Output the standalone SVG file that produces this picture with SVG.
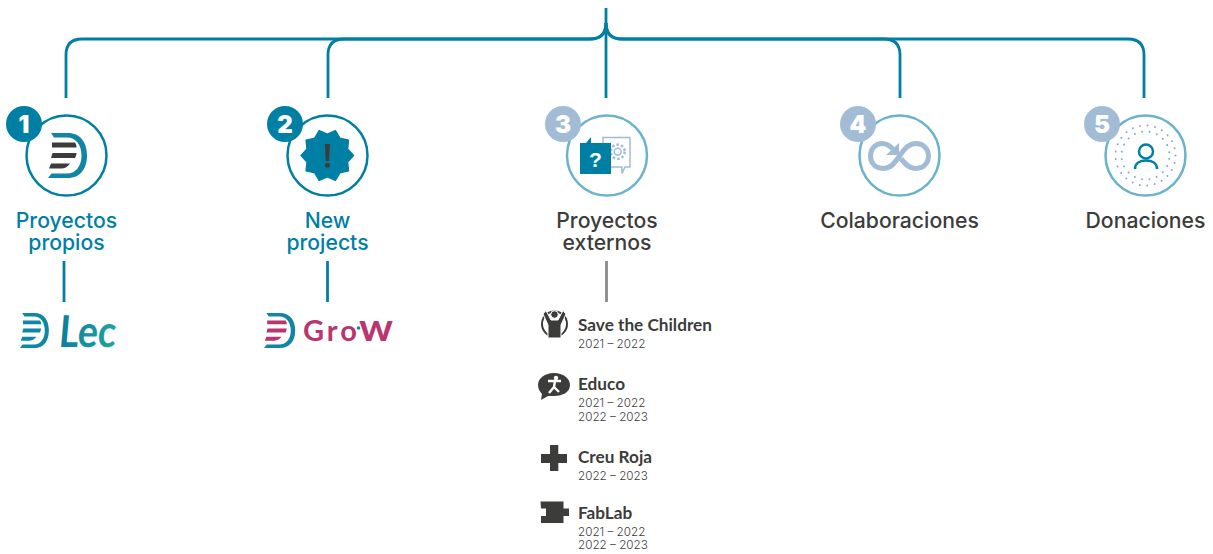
<svg xmlns="http://www.w3.org/2000/svg" width="1213" height="554" viewBox="0 0 1213 554">
<style>
.conn{fill:none;stroke:#007fa5;stroke-width:2.800}
.ring1{fill:#fff;stroke:#007fa5;stroke-width:2.500}
.ring2{fill:#fff;stroke:#6bb3cc;stroke-width:2.500}
.bd1{fill:#007fa5}
.bd2{fill:#a3bcd6}
.num{font:900 24px Inter,"Liberation Sans",sans-serif;fill:#fff;text-anchor:middle}
.lab{font:500 21.200px Inter,"Liberation Sans",sans-serif;text-anchor:middle}
.t1{fill:#007fa5}
.t2{fill:#3c3c3b}
.nm{font:700 17.200px Lato,"Liberation Sans",sans-serif;fill:#3c3c3b}
.dt{font:300 11.700px Inter,"Liberation Sans",sans-serif;fill:#3c3c3b}
.dk{fill:#3c3c3b}
.lb{fill:none;stroke:#a3bcd6}
.dots{fill:none;stroke:#86a9cc;stroke-width:2;stroke-linecap:round}
</style>
<defs>
<linearGradient id="lecg" x1="0" x2="1" y1="0" y2="0"><stop offset="0" stop-color="#0b7d9e"/><stop offset="1" stop-color="#1ea59a"/></linearGradient>
<path id="dOuter" d="M3 0H20C32 0 39 9 39 22.500C39 36 32 45 20 45H0L3.500 40.500H19C28 40.500 33.500 33 33.500 22.500C33.500 12 28 4.500 19 4.500H6Z"/>
<g id="dBars">
<path d="M4 9.500H27C28 11 28.500 12.500 28.500 14.500H4Z"/>
<path d="M4.500 20H28.500C28.300 22 27.800 23.500 27 25H3Z"/>
<path d="M3 30.500H22C20 33.500 17 35.500 13 35.500H1Z"/>
</g>
</defs>
<g id="connectors">
<path class="conn" d="M606 8V98"/>
<path class="conn" d="M66 98V55Q66 39 82 39H590Q606 39 606 23"/>
<path class="conn" d="M328 98V55Q328 39 344 39H590Q606 39 606 23"/>
<path class="conn" d="M900 98V55Q900 39 884 39H622Q606 39 606 23"/>
<path class="conn" d="M1144 98V55Q1144 39 1128 39H622Q606 39 606 23"/>
<path class="conn" d="M64 261V302"/>
<path class="conn" d="M327.500 261V302"/>
<path d="M606.500 261V302" fill="none" stroke="#8a8a8a" stroke-width="2.800"/>
</g>
<g id="node-1">
<circle class="ring1" cx="66.500" cy="155.500" r="40"/>
<circle class="bd1" cx="24" cy="124" r="18"/>
<text class="num" x="24" y="133">1</text>
<use href="#dOuter" x="48" y="133" fill="#1184a8"/>
<use href="#dBars" x="48" y="133" fill="#3c3c3b"/>
<text class="lab t1" x="66.500" y="227.500">Proyectos</text>
<text class="lab t1" x="66.500" y="249.500">propios</text>
</g>
<g id="logo-lec">
<g transform="translate(20 313) scale(.74 .78)"><use href="#dOuter" fill="#0f86a4"/><use href="#dBars" fill="#0f86a4"/></g>
<text x="0" y="0" transform="translate(58 347) skewX(-5)" font-family="Lato,sans-serif" font-weight="700" font-size="44" fill="url(#lecg)" textLength="57" lengthAdjust="spacingAndGlyphs">Lec</text>
</g>
<g id="node-2">
<circle class="ring1" cx="327.500" cy="155.500" r="40"/>
<circle class="bd1" cx="285" cy="124" r="18"/>
<text class="num" x="285" y="133">2</text>
<polygon class="bd1" stroke="#007fa5" stroke-width="1.500" stroke-linejoin="round" transform="translate(327.300 155.500) scale(.97)" points="27,0 20.920,6.800 21.840,15.870 12.930,17.800 8.340,25.680 0,22 -8.340,25.680 -12.930,17.800 -21.840,15.870 -20.920,6.800 -27,0 -20.920,-6.800 -21.840,-15.870 -12.930,-17.800 -8.340,-25.680 0,-22 8.340,-25.680 12.930,-17.800 21.840,-15.870 20.920,-6.800"/>
<path class="dk" d="M324.800 144H330L329 161H325.800Z"/>
<circle class="dk" cx="327.400" cy="165.300" r="2.500"/>
<text class="lab t1" x="327.500" y="227.500">New</text>
<text class="lab t1" x="327.500" y="249.500">projects</text>
</g>
<g id="logo-grow">
<g transform="translate(264 313) scale(.8 .78)"><use href="#dOuter" fill="#0f86a4"/><use href="#dBars" fill="#b8356f"/></g>
<text x="303" y="341" font-family="Lato,sans-serif" font-weight="700" font-size="29" fill="#b8356f" letter-spacing="3">Gro</text>
<text x="359" y="341" font-family="Lato,sans-serif" font-weight="700" font-size="38" fill="#b8356f" textLength="34" lengthAdjust="spacingAndGlyphs">w</text>
<circle cx="358.500" cy="328" r="1.800" fill="#0f86a4"/>
</g>
<g id="node-3">
<circle class="ring2" cx="607" cy="155.500" r="40"/>
<circle class="bd2" cx="563" cy="124" r="18"/>
<text class="num" x="563" y="133">3</text>
<path class="lb" stroke-width="1.500" d="M603 137.500H630V167H625L622 173.500V167H603Z"/>
<circle class="lb" stroke-width="1.500" cx="617.700" cy="151.700" r="3.500"/>
<circle class="lb" stroke-width="2.500" stroke-dasharray="2.500 2" cx="617.700" cy="151.700" r="7"/>
<path class="bd1" d="M580 143H586L591 137V143H611V174H580Z"/>
<text x="595.500" y="167" font-family="Liberation Sans,sans-serif" font-weight="700" font-size="21" fill="#fff" text-anchor="middle">?</text>
<text class="lab t2" x="607" y="227.500">Proyectos</text>
<text class="lab t2" x="607" y="249.500">externos</text>
</g>
<g id="item-save">
<circle cx="554.500" cy="324" r="12.500" fill="none" stroke="#3c3c3b" stroke-width="2"/>
<path class="dk" d="M543 314L546 310.500L551 320H558L563 310.500L566 314L561 325V338H548V325Z" stroke="#fff" stroke-width="1"/>
<circle class="dk" cx="554.500" cy="314.500" r="3.800" stroke="#fff" stroke-width="1"/>
<text class="nm" x="578" y="330.500">Save the Children</text>
<text class="dt" x="578" y="348">2021 – 2022</text>
</g>
<g id="item-educo">
<path class="dk" d="M554 373C563 373 570 378 570 385C570 392 563 396 554 396H548L541 400L542 394C540 392 538 389 538 385C538 378 545 373 554 373Z"/>
<circle cx="556" cy="378" r="2.200" fill="#fff"/>
<path d="M548 381L561 381M555 381L554 387L549 393M554 387L559 392" fill="none" stroke="#fff" stroke-width="2.400"/>
<text class="nm" x="578" y="389.500">Educo</text>
<text class="dt" x="578" y="407">2021 – 2022</text>
<text class="dt" x="578" y="421">2022 – 2023</text>
</g>
<g id="item-creu">
<path class="dk" d="M550 445H558.300V454H567V463H558.300V471H550V463H541V454H550Z"/>
<text class="nm" x="578" y="462.500">Creu Roja</text>
<text class="dt" x="578" y="480">2022 – 2023</text>
</g>
<g id="item-fablab">
<path class="dk" d="M540.500 501.500H563.500V508.500H569V516H563.500V523H541V516H546V508.500H541Z"/>
<text class="nm" x="578" y="518.500">FabLab</text>
<text class="dt" x="578" y="536">2021 – 2022</text>
<text class="dt" x="578" y="549">2022 – 2023</text>
</g>
<g id="node-4">
<circle class="ring2" cx="899.500" cy="155.500" r="40"/>
<circle class="bd2" cx="858" cy="124" r="18"/>
<text class="num" x="858" y="133">4</text>
<path class="lb" stroke-width="5" d="M893 149C889 145 886 143.500 882.500 143.500C875 143.500 870.500 149 870.500 156C870.500 163 875.500 168.500 883 168.500C890 168.500 894 164 899.500 156C905 148 909 143.500 916 143.500C923.500 143.500 928.500 149 928.500 156C928.500 163 923.500 168.500 916 168.500C909 168.500 905 164 901 158.500"/>
<polygon points="899,143 899,155 886,155" fill="#a3bcd6"/>
<text class="lab t2" x="899.500" y="227.500">Colaboraciones</text>
</g>
<g id="node-5">
<circle class="ring2" cx="1145.500" cy="155.500" r="40"/>
<circle class="dots" cx="1145.500" cy="155.500" r="30" stroke-dasharray="0 7.540"/>
<circle class="dots" cx="1145.500" cy="155.500" r="24" stroke-dasharray="0 7.540" transform="rotate(8 1145.500 155.500)"/>
<circle class="bd2" cx="1102" cy="124" r="18"/>
<text class="num" x="1102" y="133">5</text>
<circle cx="1146" cy="151.500" r="7" fill="none" stroke="#007fa5" stroke-width="2.500"/>
<path d="M1135 169C1135 163 1140 160.500 1146 160.500C1152 160.500 1157 163 1157 169" fill="none" stroke="#007fa5" stroke-width="2.500"/>
<text class="lab t2" x="1145.500" y="227.500">Donaciones</text>
</g>
</svg>
